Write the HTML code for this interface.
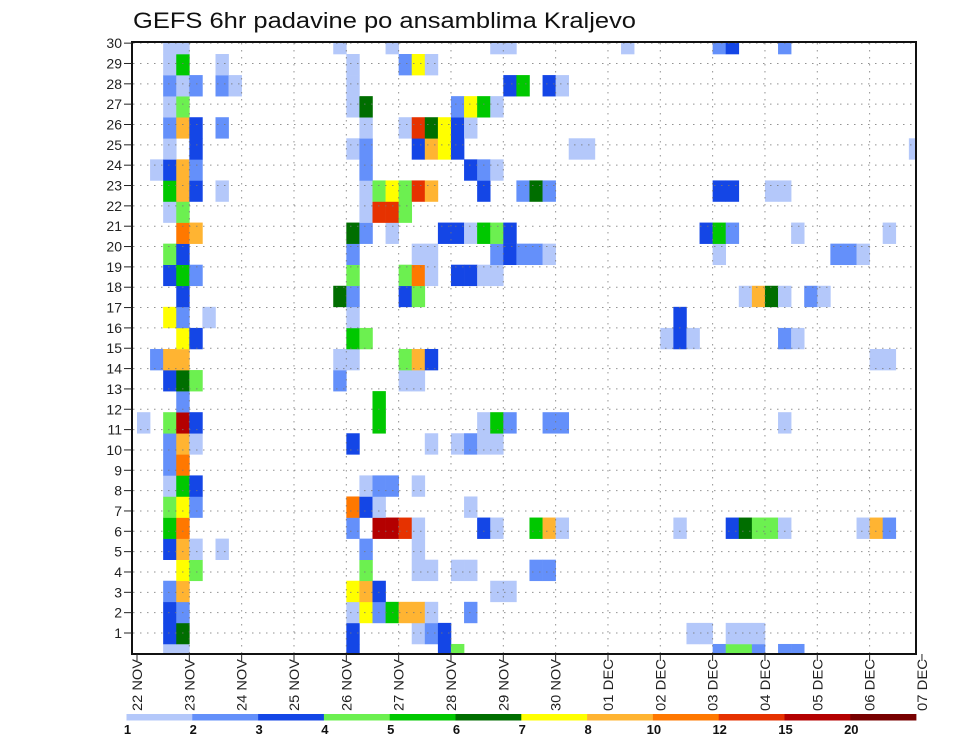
<!DOCTYPE html>
<html>
<head>
<meta charset="utf-8">
<style>
  html,body{margin:0;padding:0;background:#fff;}
  svg{display:block;}
  text{font-family:"Liberation Sans",sans-serif;}
</style>
</head>
<body>
<svg id="chart" width="960" height="742" viewBox="0 0 960 742" xmlns="http://www.w3.org/2000/svg">
  <rect x="0" y="0" width="960" height="742" fill="#ffffff"/>
  <text x="133" y="28" font-size="22" fill="#111" textLength="503" lengthAdjust="spacingAndGlyphs">GEFS  6hr  padavine  po  ansamblima  Kraljevo</text>
  <defs><clipPath id="plotclip"><rect x="132" y="42" width="784" height="612"/></clipPath></defs>
  <g id="cells" clip-path="url(#plotclip)"></g>
  <g id="grid"></g>
  <rect x="132" y="42" width="784" height="612" fill="none" stroke="#111" stroke-width="2"/>
  <g id="yaxis"></g>
  <g id="xaxis"></g>
  <g id="colorbar"></g>
</svg>
<script>
// ---- data ----
const dayLabels = ["22 NOV","23 NOV","24 NOV","25 NOV","26 NOV","27 NOV","28 NOV","29 NOV","30 NOV","01 DEC","02 DEC","03 DEC","04 DEC","05 DEC","06 DEC","07 DEC"];
const memberLabels = [1,2,3,4,5,6,7,8,9,10,11,12,13,14,15,16,17,18,19,20,21,22,23,24,25,26,27,28,29,30];
const levelBounds = [1,2,3,4,5,6,7,8,10,12,15,20];
const levelColors = ["#b4c8fa","#6490fa","#1446e6","#6cf050","#00c800","#006e00","#ffff00","#ffb432","#ff7800","#e63200","#b40000","#780000"];
// step index (6-hourly from 22 NOV 00z) per ensemble member row (row 0 = bottom)
const stepsByMember = [
 [2,3,16,23,24,44,45,46,47,49,50],
 [2,3,16,21,22,23,42,43,45,46,47],
 [2,3,16,17,18,19,20,21,22,25],
 [2,3,16,17,18,27,28],
 [3,4,17,21,22,24,25,30,31],
 [2,3,4,6,17,21],
 [2,3,16,18,19,20,21,26,27,30,31,32,41,45,46,47,48,49,55,56,57],
 [2,3,4,16,17,18,25],
 [2,3,4,17,18,19,21],
 [2,3],
 [2,3,4,16,22,24,25,26,27],
 [0,2,3,4,18,26,27,28,31,32,49],
 [3,18],
 [2,3,4,15,20,21],
 [1,2,3,15,16,20,21,22,56,57],
 [3,4,16,17,40,41,42,49,50],
 [2,3,5,16,41],
 [3,15,16,20,21,46,47,48,49,51,52],
 [2,3,4,16,20,21,22,24,25,26,27],
 [2,3,16,21,22,27,28,29,30,31,44,53,54,55],
 [3,4,16,17,19,23,24,25,26,27,28,43,44,45,50,57],
 [2,3,17,18,19,20],
 [2,3,4,6,17,18,19,20,21,22,26,29,30,31,44,45,48,49],
 [1,2,3,4,17,25,26,27],
 [2,4,16,17,21,22,23,24,33,34,59],
 [2,3,4,6,17,20,21,22,23,24,25],
 [2,3,16,17,24,25,26,27],
 [2,3,4,6,7,16,28,29,31,32],
 [2,3,6,16,20,21,22],
 [2,3,15,19,27,28,37,44,45,49]
];
// 6-hour precipitation (mm) matching stepsByMember
const valuesByMember = [
 [1.5,1.5,3.5,3.5,4.5,2.5,4.5,4.5,2.5,2.5,2.5],
 [3.5,6.5,3.5,1.5,2.5,3.5,1.5,1.5,1.5,1.5,1.5],
 [3.5,2.5,1.5,7.5,2.5,5.5,9,9,1.5,2.5],
 [2.5,9,7.5,9,3.5,1.5,1.5],
 [7.5,4.5,4.5,1.5,1.5,1.5,1.5,2.5,2.5],
 [3.5,9,1.5,1.5,2.5,1.5],
 [5.5,11,2.5,17.5,17.5,13.5,1.5,3.5,1.5,5.5,9,1.5,1.5,3.5,6.5,4.5,4.5,1.5,1.5,9,2.5],
 [4.5,7.5,2.5,11,3.5,1.5,1.5],
 [1.5,5.5,3.5,1.5,2.5,2.5,1.5],
 [2.5,11],
 [2.5,9,1.5,3.5,1.5,1.5,2.5,1.5,1.5],
 [1.5,4.5,17.5,3.5,5.5,1.5,5.5,2.5,2.5,2.5,1.5],
 [2.5,5.5],
 [3.5,6.5,4.5,2.5,1.5,1.5],
 [2.5,9,9,1.5,1.5,4.5,9,3.5,1.5,1.5],
 [7.5,3.5,5.5,4.5,1.5,3.5,1.5,2.5,1.5],
 [7.5,2.5,1.5,1.5,3.5],
 [3.5,6.5,2.5,3.5,4.5,1.5,9,6.5,1.5,2.5,1.5],
 [3.5,5.5,2.5,4.5,4.5,11,1.5,3.5,3.5,1.5,1.5],
 [4.5,3.5,2.5,1.5,1.5,2.5,3.5,2.5,2.5,1.5,1.5,2.5,2.5,1.5],
 [11,9,6.5,2.5,1.5,3.5,3.5,1.5,5.5,4.5,3.5,3.5,5.5,2.5,1.5,1.5],
 [1.5,4.5,1.5,13.5,13.5,4.5],
 [5.5,9,3.5,1.5,1.5,4.5,7.5,4.5,13.5,9,3.5,2.5,6.5,2.5,3.5,3.5,1.5,1.5],
 [1.5,3.5,9,2.5,2.5,3.5,2.5,1.5],
 [1.5,3.5,1.5,2.5,3.5,9,7.5,3.5,1.5,1.5,1.5],
 [2.5,9,3.5,2.5,1.5,1.5,13.5,6.5,7.5,3.5,1.5],
 [1.5,4.5,1.5,6.5,2.5,7.5,5.5,1.5],
 [2.5,1.5,2.5,2.5,1.5,1.5,3.5,5.5,3.5,1.5],
 [1.5,5.5,1.5,1.5,2.5,7.5,1.5],
 [1.5,1.5,1.5,1.5,1.5,1.5,1.5,2.5,3.5,2.5]
];

// ---- scales ----
const NS = "http://www.w3.org/2000/svg";
const X0 = 137, DAYW = 52.33, STEPW = DAYW/4;
const ROWH = 21.07, ROW0 = 654.5;
function xStep(s){ return X0 + STEPW*s; }
function xDay(d){ return X0 + DAYW*d; }
function yRow(m){ return ROW0 - ROWH*m; }
function yLabel(n){ return 633 - 20.34*(n-1); }
function colorFor(v){
  let idx = -1;
  for (let i=0;i<levelBounds.length;i++){ if (v>=levelBounds[i]) idx=i; }
  return idx<0 ? null : levelColors[idx];
}
function mk(tag, attrs, parent){
  const el = document.createElementNS(NS, tag);
  for (const k in attrs) el.setAttribute(k, attrs[k]);
  parent.appendChild(el);
  return el;
}

// ---- cells ----
const cellsG = document.getElementById('cells');
stepsByMember.forEach((steps, m) => {
  steps.forEach((s, i) => {
    const c = colorFor(valuesByMember[m][i]);
    if (!c) return;
    const r = mk('rect', {x: xStep(s).toFixed(2), y: (yRow(m)-ROWH/2).toFixed(2), width: (STEPW+0.3).toFixed(2), height: (ROWH+0.3).toFixed(2), fill: c}, cellsG);
    
    
  });
});

// ---- grid ----
const gridG = document.getElementById('grid');
memberLabels.forEach(n => {
  const y = yLabel(n);
  const l = mk('line', {x1:133, x2:915, y1:y, y2:y, stroke:'#777', 'stroke-width':1, 'stroke-dasharray':'1.5,5.5', opacity:0.8}, gridG);
  
  
});
dayLabels.forEach((d, i) => {
  if (i===0 || i===dayLabels.length-1) return;
  const x = xDay(i);
  const l = mk('line', {x1:x, x2:x, y1:43, y2:653, stroke:'#777', 'stroke-width':1, 'stroke-dasharray':'1.5,5.5', opacity:0.8}, gridG);
  
  
});

// ---- y axis ----
const yG = document.getElementById('yaxis');
memberLabels.forEach(n => {
  const y = yLabel(n);
  const t = mk('line', {x1:124, x2:132, y1:y, y2:y, stroke:'#222', 'stroke-width':1}, yG);
  
  
  const tx = mk('text', {x:122, y:y+5, 'font-size':14, 'text-anchor':'end', fill:'#222'}, yG);
  tx.textContent = n;
  
  
});

// ---- x axis ----
const xG = document.getElementById('xaxis');
dayLabels.forEach((d, i) => {
  const x = xDay(i);
  const t = mk('line', {x1:x, x2:x, y1:654, y2:661, stroke:'#222', 'stroke-width':1}, xG);
  
  
  const tx = mk('text', {x:0, y:0, 'font-size':14, fill:'#222', textLength:52, lengthAdjust:'spacingAndGlyphs', transform:`translate(${(x+5).toFixed(1)},711) rotate(-90)`}, xG);
  tx.textContent = d;
  
  
});

// ---- colorbar ----
const cbG = document.getElementById('colorbar');
const CB0 = 126.5, CBW = 65.8;
levelColors.forEach((c, i) => {
  const r = mk('rect', {x:(CB0+CBW*i).toFixed(2), y:714, width:(CBW+0.3).toFixed(2), height:6.5, fill:c}, cbG);
  
  
});
levelBounds.forEach((b, i) => {
  const tx = mk('text', {x:(CB0+CBW*i+1).toFixed(2), y:734, 'font-size':13, 'font-weight':'bold', 'text-anchor':'middle', fill:'#111'}, cbG);
  tx.textContent = b;
  
  
});
</script>
</body>
</html>
